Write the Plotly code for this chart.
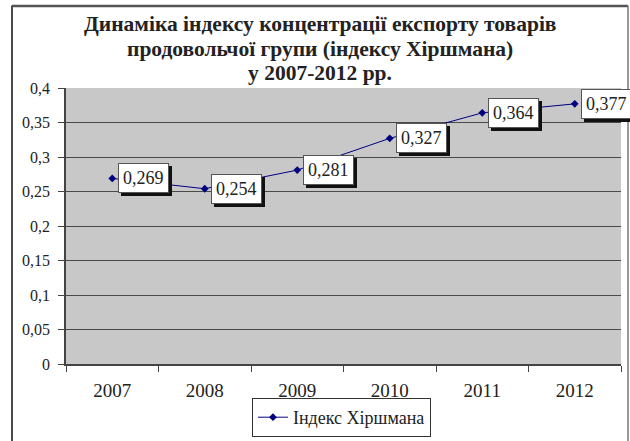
import plotly.graph_objects as go

years = ["2007", "2008", "2009", "2010", "2011", "2012"]
values = [0.269, 0.254, 0.281, 0.327, 0.364, 0.377]
value_labels = ["0,269", "0,254", "0,281", "0,327", "0,364", "0,377"]
y_ticks = [0, 0.05, 0.1, 0.15, 0.2, 0.25, 0.3, 0.35, 0.4]
y_tick_labels = ["0", "0,05", "0,1", "0,15", "0,2", "0,25", "0,3", "0,35", "0,4"]
series_name = "Індекс Хіршмана"
title_lines = [
    "Динаміка індексу концентрації експорту товарів",
    "продовольчої групи (індексу Хіршмана)",
    "у 2007-2012 рр.",
]

FONT = "Times New Roman"

fig = go.Figure()
fig.add_trace(go.Scatter(
    x=years, y=values, mode="lines+markers", name=series_name,
    line=dict(color="#000080", width=1),
    marker=dict(symbol="diamond", size=6, color="#000080"),
    showlegend=True,
))

annotations = []
for i, (yv, lab) in enumerate(zip(values, value_labels)):
    annotations.append(dict(
        x=i, y=yv, xref="x", yref="y", text=lab, showarrow=False,
        xanchor="left", yanchor="middle", xshift=9, yshift=-3,
        font=dict(family=FONT, size=18, color="#111111"),
        bgcolor="#111111", bordercolor="#111111", borderwidth=1, borderpad=4,
    ))
for i, (yv, lab) in enumerate(zip(values, value_labels)):
    annotations.append(dict(
        x=i, y=yv, xref="x", yref="y", text=lab, showarrow=False,
        xanchor="left", yanchor="middle", xshift=6,
        font=dict(family=FONT, size=18, color="#222222"),
        bgcolor="white", bordercolor="#555555", borderwidth=1, borderpad=4,
    ))

title_y = [1.2319, 1.1431, 1.0543]
for line, ty in zip(title_lines, title_y):
    annotations.append(dict(
        x=0.4577, y=ty, xref="paper", yref="paper", text="<b>" + line + "</b>", showarrow=False,
        xanchor="center", yanchor="middle",
        font=dict(family=FONT, size=21.5, color="#222222"),
    ))

shapes = [
    dict(type="line", xref="paper", yref="paper", x0=-0.0973, x1=-0.0973, y0=-0.3, y1=1.299,
         line=dict(color="#111111", width=1.5)),
    dict(type="line", xref="paper", yref="paper", x0=-0.0973, x1=1.0126, y0=1.297, y1=1.297,
         line=dict(color="#555555", width=2.5)),
    dict(type="line", xref="paper", yref="paper", x0=1.0126, x1=1.0126, y0=-0.3, y1=1.299,
         line=dict(color="#777777", width=1.5)),
]

fig.update_layout(
    width=630, height=441,
    margin=dict(l=66, r=9, t=88, b=77),
    paper_bgcolor="white", plot_bgcolor="#C8C8C8",
    font=dict(family=FONT, size=16, color="#222222"),
    xaxis=dict(type="category", categoryorder="array", categoryarray=years, range=[-0.5, 5.5],
               showgrid=False, showline=True, linecolor="#444444", linewidth=1.5,
               ticks="outside", tickson="boundaries", ticklen=6, tickcolor="#444444", tickangle=0,
               ticklabelstandoff=8,
               tickfont=dict(family=FONT, size=19, color="#222222"), zeroline=False,
               automargin=False),
    yaxis=dict(range=[0, 0.4], tickmode="array", tickvals=y_ticks, ticktext=y_tick_labels,
               showgrid=True, gridcolor="#4a4a4a", gridwidth=1.2,
               showline=True, linecolor="#444444", linewidth=1.5, ticks="outside", ticklen=6,
               tickcolor="#444444", zeroline=False, automargin=False, ticklabelstandoff=5,
               tickfont=dict(family=FONT, size=16, color="#222222")),
    legend=dict(orientation="h", xref="container", yref="container",
                x=0.542, xanchor="center", y=0.0975, yanchor="top",
                bordercolor="#333333", borderwidth=1, bgcolor="white",
                font=dict(family=FONT, size=18, color="#222222")),
    annotations=annotations,
    shapes=shapes,
)

fig.write_html("out.html",
               config={"displayModeBar": False},
               post_script="document.body.style.margin='0px';document.body.style.overflow='hidden';")
